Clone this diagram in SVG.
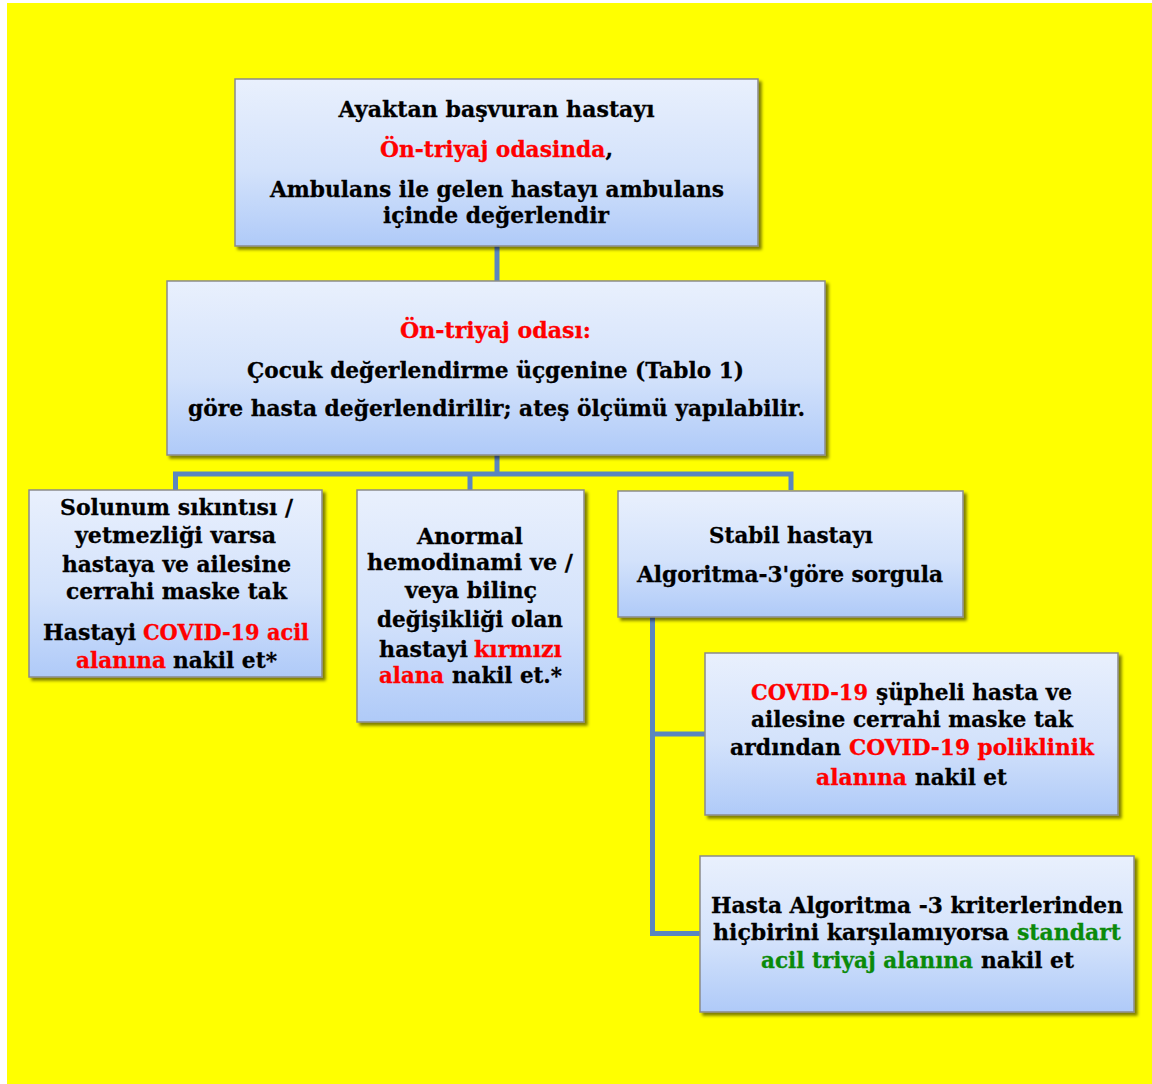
<svg xmlns="http://www.w3.org/2000/svg" width="1152" height="1084" viewBox="0 0 1152 1084">
<defs>
<linearGradient id="boxg" x1="0" y1="0" x2="0" y2="1">
<stop offset="0" stop-color="#e9f0fd"/>
<stop offset="0.55" stop-color="#d3e2fb"/>
<stop offset="1" stop-color="#afcaf8"/>
</linearGradient>
<filter id="sh" x="-5%" y="-5%" width="112%" height="115%">
<feDropShadow dx="3" dy="3" stdDeviation="1.8" flood-color="#000" flood-opacity="0.5"/>
</filter>
</defs>
<style>
.box{fill:url(#boxg);stroke:#8a8a8a;stroke-width:1.5;filter:url(#sh)}
.conn{fill:none;stroke:#5a86bf;stroke-width:5;stroke-linejoin:miter}
text{font-family:"DejaVu Serif","Liberation Serif",serif;font-weight:bold;font-size:23px;fill:#000;stroke:#000;stroke-width:0.3}
.r{fill:#ff0000;stroke:#ff0000}
.g{fill:#0a8a0a;stroke:#0a8a0a}
</style>
<rect x="0" y="0" width="1152" height="1084" fill="#ffffff"/>
<rect x="7" y="3" width="1145" height="1081" fill="#ffff00"/>

<g id="connectors">
<path class="conn" d="M497,246 V281"/>
<path class="conn" d="M497,455 V474 M175.5,490 V474 H791 V490 M470,474 V490"/>
<path class="conn" d="M652.5,617 V933.5 H700 M652.5,734 H705"/>
</g>

<g id="n1">
<rect class="box" x="235" y="79" width="523" height="167"/>
<text x="338.6" y="117" textLength="316" lengthAdjust="spacingAndGlyphs">Ayaktan başvuran hastayı</text>
<text x="380" y="157" textLength="233" lengthAdjust="spacingAndGlyphs"><tspan class="r">Ön-triyaj odasinda</tspan>,</text>
<text x="270" y="197" textLength="454" lengthAdjust="spacingAndGlyphs">Ambulans ile gelen hastayı ambulans</text>
<text x="383" y="223" textLength="226" lengthAdjust="spacingAndGlyphs">içinde değerlendir</text>
</g>

<g id="n2">
<rect class="box" x="167" y="281" width="658" height="174"/>
<text class="r" x="400" y="338" textLength="191" lengthAdjust="spacingAndGlyphs">Ön-triyaj odası:</text>
<text x="247" y="378" textLength="497" lengthAdjust="spacingAndGlyphs">Çocuk değerlendirme üçgenine (Tablo 1)</text>
<text x="188" y="416" textLength="617" lengthAdjust="spacingAndGlyphs">göre hasta değerlendirilir; ateş ölçümü yapılabilir.</text>
</g>

<g id="n3">
<rect class="box" x="29" y="490" width="293" height="187"/>
<text x="60" y="515" textLength="233" lengthAdjust="spacingAndGlyphs">Solunum sıkıntısı /</text>
<text x="75" y="543" textLength="201" lengthAdjust="spacingAndGlyphs">yetmezliği varsa</text>
<text x="62" y="572" textLength="229" lengthAdjust="spacingAndGlyphs">hastaya ve ailesine</text>
<text x="66" y="599" textLength="221" lengthAdjust="spacingAndGlyphs">cerrahi maske tak</text>
<text x="43" y="640" textLength="93" lengthAdjust="spacingAndGlyphs">Hastayi</text>
<text class="r" x="143" y="640" textLength="166" lengthAdjust="spacingAndGlyphs">COVID-19 acil</text>
<text class="r" x="76" y="668" textLength="90" lengthAdjust="spacingAndGlyphs">alanına</text>
<text x="173" y="668" textLength="104" lengthAdjust="spacingAndGlyphs">nakil et*</text>
</g>

<g id="n4">
<rect class="box" x="357" y="490" width="227" height="232"/>
<text x="417" y="544" textLength="106" lengthAdjust="spacingAndGlyphs">Anormal</text>
<text x="367" y="570" textLength="206" lengthAdjust="spacingAndGlyphs">hemodinami ve /</text>
<text x="405" y="598" textLength="132" lengthAdjust="spacingAndGlyphs">veya bilinç</text>
<text x="377" y="627" textLength="186" lengthAdjust="spacingAndGlyphs">değişikliği olan</text>
<text x="379" y="657" textLength="89" lengthAdjust="spacingAndGlyphs">hastayi</text>
<text class="r" x="474" y="657" textLength="88" lengthAdjust="spacingAndGlyphs">kırmızı</text>
<text class="r" x="379" y="683" textLength="65" lengthAdjust="spacingAndGlyphs">alana</text>
<text x="452" y="683" textLength="110" lengthAdjust="spacingAndGlyphs">nakil et.*</text>
</g>

<g id="n5">
<rect class="box" x="618" y="491" width="345" height="126"/>
<text x="709" y="543" textLength="164" lengthAdjust="spacingAndGlyphs">Stabil hastayı</text>
<text x="637" y="582" textLength="306" lengthAdjust="spacingAndGlyphs">Algoritma-3'göre sorgula</text>
</g>

<g id="n6">
<rect class="box" x="705" y="653" width="413" height="162"/>
<text class="r" x="751" y="700" textLength="117" lengthAdjust="spacingAndGlyphs">COVID-19</text>
<text x="876" y="700" textLength="196" lengthAdjust="spacingAndGlyphs">şüpheli hasta ve</text>
<text x="751" y="727" textLength="322" lengthAdjust="spacingAndGlyphs">ailesine cerrahi maske tak</text>
<text x="730" y="755" textLength="111" lengthAdjust="spacingAndGlyphs">ardından</text>
<text class="r" x="849" y="755" textLength="245" lengthAdjust="spacingAndGlyphs">COVID-19 poliklinik</text>
<text class="r" x="816" y="785" textLength="91" lengthAdjust="spacingAndGlyphs">alanına</text>
<text x="915" y="785" textLength="92" lengthAdjust="spacingAndGlyphs">nakil et</text>
</g>

<g id="n7">
<rect class="box" x="700" y="856" width="434" height="156"/>
<text x="711" y="913" textLength="412" lengthAdjust="spacingAndGlyphs">Hasta Algoritma -3 kriterlerinden</text>
<text x="713" y="940" textLength="296" lengthAdjust="spacingAndGlyphs">hiçbirini karşılamıyorsa</text>
<text class="g" x="1017" y="940" textLength="104" lengthAdjust="spacingAndGlyphs">standart</text>
<text class="g" x="761" y="968" textLength="212" lengthAdjust="spacingAndGlyphs">acil triyaj alanına</text>
<text x="981" y="968" textLength="93" lengthAdjust="spacingAndGlyphs">nakil et</text>
</g>
</svg>
